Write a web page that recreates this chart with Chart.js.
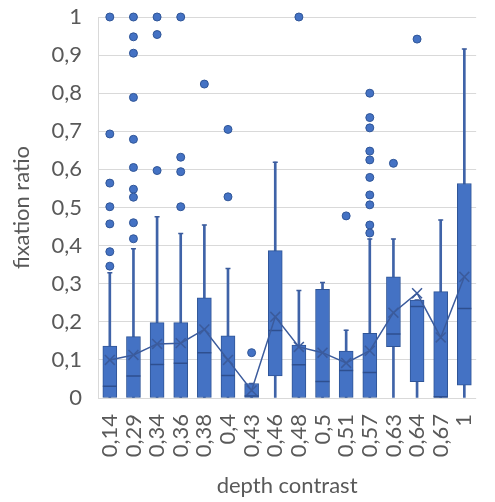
<!DOCTYPE html>
<html>
<head>
<meta charset="utf-8">
<script src="https://cdn.jsdelivr.net/npm/chart.js@4/dist/chart.umd.min.js"></script>
<style>
  html, body { margin: 0; padding: 0; background: #fff; overflow: hidden; }
  canvas { display: block; }
</style>
</head>
<body>
<canvas id="boxChart" width="499" height="502"></canvas>
<script>
// depth contrast categories
const categories = ['0,14', '0,29', '0,34', '0,36', '0,38', '0,4', '0,43', '0,46',
                    '0,48', '0,5', '0,51', '0,57', '0,63', '0,64', '0,67', '1'];

// box statistics per category
const q1 =          [0,     0,     0,     0,     0,     0,     0,     0.058, 0,     0,     0,     0,     0.135, 0.043, 0,     0.034];
const medians =     [0.031, 0.058, 0.088, 0.091, 0.119, 0.059, 0.005, 0.177, 0.087, 0.043, 0.072, 0.067, 0.168, 0.240, 0.003, 0.235];
const q3 =          [0.136, 0.161, 0.198, 0.198, 0.263, 0.163, 0.038, 0.387, 0.139, 0.285, 0.123, 0.170, 0.318, 0.257, 0.279, 0.563];
const whiskerLow =  [0,     0,     0,     0,     0,     0,     0,     0,     0,     0,     0,     0,     0,     0,     0,     0];
const whiskerHigh = [0.329, 0.392, 0.476, 0.432, 0.454, 0.340, 0.038, 0.619, 0.282, 0.303, 0.178, 0.417, 0.417, 0.257, 0.467, 0.916];
const means =       [0.100, 0.113, 0.142, 0.144, 0.180, 0.100, 0.020, 0.213, 0.134, 0.119, 0.092, 0.124, 0.224, 0.275, 0.159, 0.318];

// outlier points per category
const outliers = [
  [1, 0.693, 0.564, 0.502, 0.457, 0.384, 0.346],
  [1, 0.948, 0.905, 0.789, 0.679, 0.605, 0.548, 0.527, 0.460, 0.418],
  [1, 0.954, 0.597],
  [1, 0.632, 0.594, 0.502],
  [0.824],
  [0.705, 0.528],
  [0.119],
  [],
  [1],
  [],
  [0.478],
  [0.800, 0.736, 0.709, 0.648, 0.625, 0.579, 0.533, 0.507, 0.454, 0.433],
  [0.616],
  [0.942],
  [],
  []
];

const outlierPoints = outliers.flatMap((vals, i) => vals.map(v => ({ x: categories[i], y: v })));

const FILL = '#4472c4';
const DARK = '#2f5597';
const TEXT = '#595959';
const FONT = 'Lato';

new Chart(document.getElementById('boxChart').getContext('2d'), {
  type: 'bar',
  data: {
    labels: categories,
    datasets: [
      {
        type: 'line',
        data: outlierPoints,
        showLine: false,
        pointRadius: 4,
        pointBackgroundColor: FILL,
        pointBorderColor: DARK,
        pointBorderWidth: 1,
        clip: false,
        order: 0
      },
      {
        type: 'line',
        data: means,
        borderColor: '#3b5b9c',
        borderWidth: 1.5,
        pointStyle: 'crossRot',
        pointRadius: 7,
        pointBorderWidth: 1.5,
        pointBorderColor: '#3b5b9c',
        tension: 0,
        clip: false,
        order: 1
      },
      {
        type: 'line',
        data: medians,
        showLine: false,
        pointStyle: 'line',
        pointRadius: 7,
        pointBorderWidth: 1.5,
        pointBorderColor: '#2e4f8f',
        order: 2
      },
      {
        type: 'line',
        data: whiskerHigh,
        showLine: false,
        pointStyle: 'line',
        pointRadius: 2.5,
        pointBorderWidth: 1.5,
        pointBorderColor: '#3b5b9c',
        order: 3
      },
      {
        data: q1.map((v, i) => [v, q3[i]]),
        backgroundColor: FILL,
        borderColor: DARK,
        borderWidth: 1,
        borderSkipped: false,
        barThickness: 14,
        grouped: false,
        order: 4
      },
      {
        data: whiskerLow.map((v, i) => [v, whiskerHigh[i]]),
        backgroundColor: '#3f63a8',
        barThickness: 2,
        grouped: false,
        order: 5
      }
    ]
  },
  options: {
    responsive: false,
    animation: false,
    layout: { padding: { top: 17, right: 0, left: 0, bottom: 0 } },
    plugins: {
      legend: { display: false },
      tooltip: { enabled: false }
    },
    scales: {
      x: {
        type: 'category',
        grid: { display: false },
        border: { display: false },
        ticks: {
          minRotation: 90,
          maxRotation: 90,
          autoSkip: false,
          padding: 8,
          color: TEXT,
          font: { family: FONT, size: 22 }
        },
        title: {
          display: true,
          text: 'depth contrast',
          color: TEXT,
          font: { family: FONT, size: 22 },
          padding: { top: 0, bottom: 3 }
        },
        afterFit: scale => { scale.height = 104; }
      },
      y: {
        min: 0,
        max: 1,
        ticks: {
          stepSize: 0.1,
          padding: 0,
          color: TEXT,
          font: { family: FONT, size: 22 },
          callback: v => String(Math.round(v * 10) / 10).replace('.', ',')
        },
        // invisible tick marks keep the labels clear of the axis
        grid: { color: '#d9d9d9', drawTicks: true, tickLength: 16, tickColor: 'rgba(0,0,0,0)' },
        border: { color: '#d9d9d9' },
        title: {
          display: true,
          text: 'fixation ratio',
          color: TEXT,
          font: { family: FONT, size: 22 },
          padding: { top: 9, bottom: 0 }
        },
        afterFit: scale => { scale.width = 98; }
      }
    }
  }
});
</script>
</body>
</html>
